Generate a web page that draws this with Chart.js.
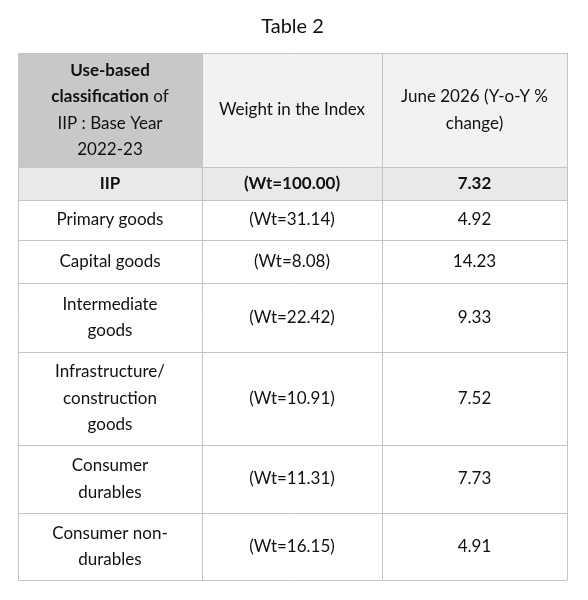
<!DOCTYPE html>
<html>
<head>
<meta charset="utf-8">
<script src="https://cdn.jsdelivr.net/npm/chart.js@4"></script>
<style>
  body { margin: 0; background: #fff; }
  #wrap { width: 588px; height: 600px; }
</style>
</head>
<body>
<div id="wrap"><canvas id="tbl" width="588" height="600"></canvas></div>
<script>
// Table content (** marks bold text)
const title = 'Table 2';
const headers = [
    ['**Use-based**', '**classification** of', 'IIP : Base Year', '2022-23'],
    ['Weight in the Index'],
    ['June 2026 (Y-o-Y %', 'change)']
];
const categories = [
    ['**IIP**'],
    ['Primary goods'],
    ['Capital goods'],
    ['Intermediate', 'goods'],
    ['Infrastructure/', 'construction', 'goods'],
    ['Consumer', 'durables'],
    ['Consumer non-', 'durables']
];
const weights = ['**(Wt=100.00)**', '(Wt=31.14)', '(Wt=8.08)', '(Wt=22.42)', '(Wt=10.91)', '(Wt=11.31)', '(Wt=16.15)'];
const changes = ['**7.32**', '4.92', '14.23', '9.33', '7.52', '7.73', '4.91'];
const rowHeights = [114, 33, 40, 43, 69, 93, 68, 67];
const colWidths = [184, 180, 185];

const FONT = 'Lato, "Open Sans", sans-serif';
const SIZE = 17;
const LINE = 26.5;

function drawRich(ctx, line, cx, cy) {
    const parts = line.split('**').map((t, i) => ({ t, bold: i % 2 === 1 })).filter(p => p.t);
    let total = 0;
    parts.forEach(p => {
        ctx.font = (p.bold ? 'bold ' : '') + SIZE + 'px ' + FONT;
        p.w = ctx.measureText(p.t).width;
        total += p.w;
    });
    let x = cx - total / 2;
    parts.forEach(p => {
        ctx.font = (p.bold ? 'bold ' : '') + SIZE + 'px ' + FONT;
        ctx.fillText(p.t, x, cy);
        x += p.w;
    });
}

function drawCell(ctx, lines, cx, cy) {
    const start = cy - (lines.length - 1) * LINE / 2;
    lines.forEach((l, i) => drawRich(ctx, l, cx, start + i * LINE));
}

const tablePlugin = {
    id: 'tablePlugin',
    afterDraw(chart) {
        const ctx = chart.ctx;
        const xs = chart.scales.x, ys = chart.scales.y;
        const colEdges = [0];
        colWidths.forEach(w => colEdges.push(colEdges[colEdges.length - 1] + w));
        const rowEdges = [0];
        rowHeights.forEach(h => rowEdges.push(rowEdges[rowEdges.length - 1] + h));
        const X = v => xs.getPixelForValue(v);
        const Y = v => ys.getPixelForValue(v);

        const rows = [headers].concat(categories.map((c, i) => [c, [weights[i]], [changes[i]]]));

        ctx.save();
        // backgrounds
        rows.forEach((row, r) => {
            row.forEach((cell, c) => {
                let bg = '#ffffff';
                if (r === 0) bg = c === 0 ? '#c8c8c8' : '#f2f2f2';
                else if (r === 1) bg = '#e9e9e9';
                ctx.fillStyle = bg;
                ctx.fillRect(X(colEdges[c]), Y(rowEdges[r]), X(colEdges[c + 1]) - X(colEdges[c]), Y(rowEdges[r + 1]) - Y(rowEdges[r]));
            });
        });
        // grid lines
        ctx.strokeStyle = '#c4c4c4';
        ctx.lineWidth = 1;
        colEdges.forEach(v => {
            ctx.beginPath();
            ctx.moveTo(Math.round(X(v)) + 0.5, Y(0));
            ctx.lineTo(Math.round(X(v)) + 0.5, Y(rowEdges[rowEdges.length - 1]));
            ctx.stroke();
        });
        rowEdges.forEach(v => {
            ctx.beginPath();
            ctx.moveTo(X(0), Math.round(Y(v)) + 0.5);
            ctx.lineTo(X(colEdges[colEdges.length - 1]), Math.round(Y(v)) + 0.5);
            ctx.stroke();
        });
        // text
        ctx.fillStyle = '#111';
        ctx.textBaseline = 'middle';
        ctx.textAlign = 'left';
        rows.forEach((row, r) => {
            row.forEach((cell, c) => {
                const cx = (X(colEdges[c]) + X(colEdges[c + 1])) / 2;
                const cy = (Y(rowEdges[r]) + Y(rowEdges[r + 1])) / 2;
                drawCell(ctx, cell, cx, cy);
            });
        });
        // title
        ctx.font = '20px ' + FONT;
        ctx.textAlign = 'center';
        ctx.fillText(title, (X(0) + X(colEdges[colEdges.length - 1])) / 2, 27);
        ctx.restore();
    }
};

new Chart(document.getElementById('tbl'), {
    type: 'scatter',
    data: { datasets: [] },
    options: {
        responsive: false,
        animation: false,
        layout: { padding: { left: 18, right: 21, top: 53, bottom: 20 } },
        plugins: { legend: { display: false }, tooltip: { enabled: false } },
        scales: {
            x: { display: false, min: 0, max: colWidths.reduce((a, b) => a + b, 0) },
            y: { display: false, reverse: true, min: 0, max: rowHeights.reduce((a, b) => a + b, 0) }
        }
    },
    plugins: [tablePlugin]
});
</script>
</body>
</html>
